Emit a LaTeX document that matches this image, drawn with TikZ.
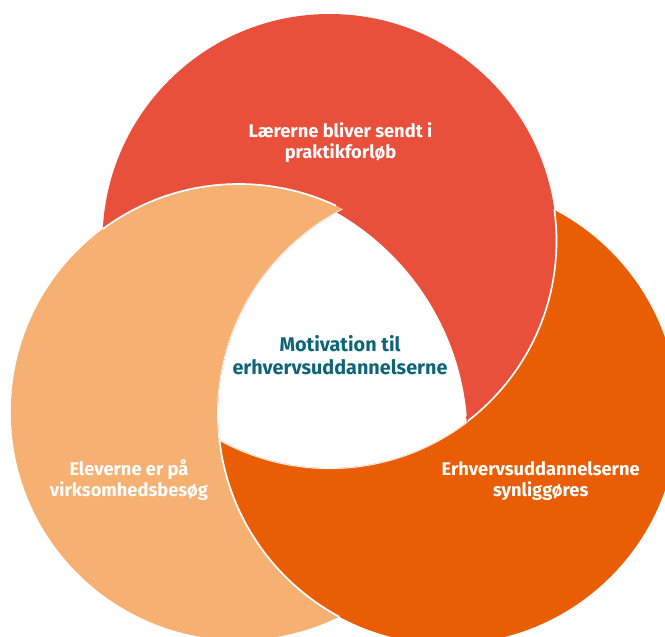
\documentclass[tikz,border=0pt]{standalone}
\usepackage{fontspec}
\setmainfont{Fira Sans}
\definecolor{cred}{HTML}{E9503B}
\definecolor{corange}{HTML}{E95E04}
\definecolor{clight}{HTML}{F6B072}
\definecolor{cteal}{HTML}{0F6577}
\begin{document}
\begin{tikzpicture}[x=1pt,y=-1pt,
  edge/.style={draw=white,line width=1.7pt},
  lbl/.style={text=white,font=\bfseries\fontsize{18.3}{21.6}\selectfont,align=center,inner sep=0pt},
  ctr/.style={text=cteal,font=\bfseries\fontsize{19.8}{23.4}\selectfont,align=center,inner sep=0pt}]
\useasboundingbox (0,0) rectangle (665,637);
\clip (0,0) rectangle (665,637);
\def\redc{(329.5,241) circle[radius=227pt]}
\def\redcbig{(329.5,241) circle[radius=228.2pt]}
\def\lightc{(238.8,412) circle[radius=228pt]}
\def\lightcbig{(238.8,412) circle[radius=229.2pt]}
\def\orangec{(448,414) circle[radius=230pt]}
\def\innerc{(207,438.8) circle[radius=260.7pt]}
% base fills
\fill[clight] \lightc;
\fill[corange] \orangec;
\fill[cred] \redc;
\begin{scope}
  \clip \redcbig;
  \fill[clight] \lightc;
\end{scope}
% white edges where one disc lies over another
\begin{scope}
  \clip \lightc;
  \draw[edge] \orangec;
\end{scope}
\begin{scope}
  \clip \orangec;
  \draw[edge] \redc;
\end{scope}
\begin{scope}
  \clip \redc;
  \clip (0,0) rectangle (336,637);
  \draw[edge] \lightc;
\end{scope}
% triple overlap: red, then white centre
\begin{scope}
  \clip \redc;
  \clip \orangec;
  \fill[cred] \lightcbig;
\end{scope}
\begin{scope}
  \clip \redc;
  \clip \orangec;
  \clip \lightc;
  \fill[white] \innerc;
\end{scope}
% labels
\node[lbl] (top) at (340.5,142.5) {Lærerne bliver sendt i\\praktikforløb};
\node[ctr] (mid) at (340,355) {Motivation til\\erhvervsuddannelserne};
\node[lbl] (left) at (129,480) {Eleverne er på\\virksomhedsbesøg};
\node[lbl] (right) at (540.7,481) {Erhvervsuddannelserne\\synliggøres};
\end{tikzpicture}
\end{document}
